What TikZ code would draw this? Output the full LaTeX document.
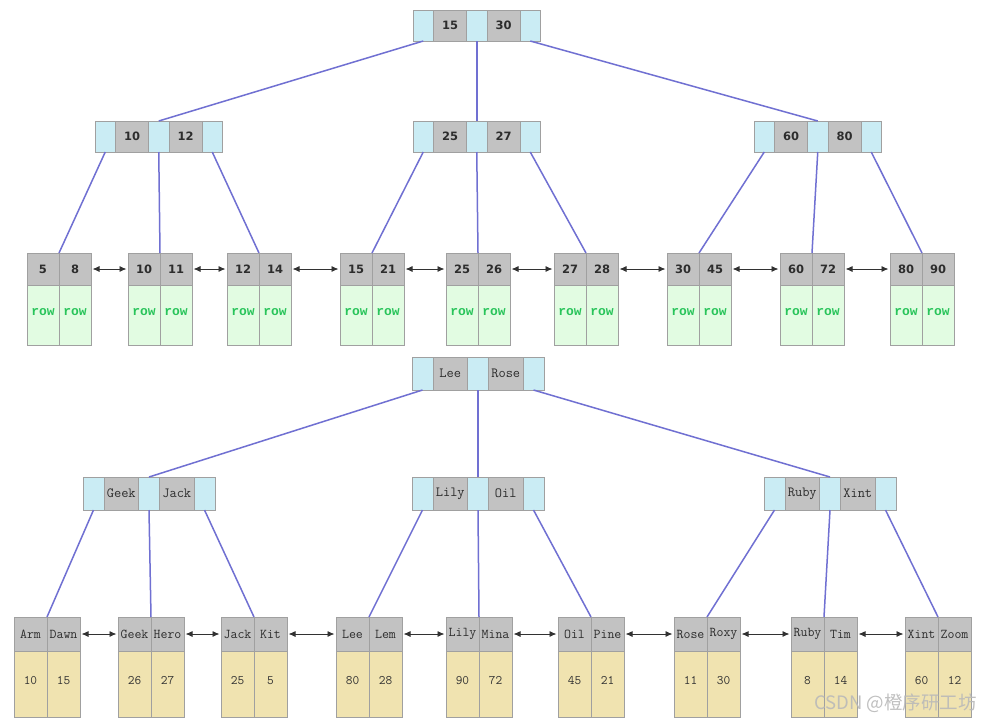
\documentclass[tikz,border=0pt]{standalone}
\usepackage{fontspec}
\newfontfamily\numfont{DejaVu Sans}
\newfontfamily\monofnt{Liberation Mono}
\newfontfamily\cjkfont{Noto Sans CJK SC}
\usetikzlibrary{arrows.meta}
\definecolor{cellcyan}{RGB}{202,236,244}
\definecolor{cellgray}{RGB}{194,194,194}
\definecolor{cellborder}{RGB}{160,160,160}
\definecolor{rowgreen}{RGB}{226,252,226}
\definecolor{rowtext}{RGB}{40,196,90}
\definecolor{valyellow}{RGB}{240,227,176}
\definecolor{keytext}{RGB}{45,45,45}
\definecolor{valtext}{RGB}{50,50,50}
\definecolor{linkblue}{RGB}{112,112,210}
\definecolor{arrowgray}{RGB}{50,50,50}
\tikzset{
  cell/.style={draw=cellborder, line width=0.8pt, inner sep=0pt, outer sep=0pt, anchor=north west},
  tcy/.style={cell, fill=cellcyan, minimum width=20.5pt, minimum height=31pt},
  tgy/.style={cell, fill=cellgray, minimum width=33pt, minimum height=31pt, text=keytext,
    font=\numfont\bfseries\fontsize{11.5}{12}\selectfont},
  bcy/.style={cell, fill=cellcyan, minimum width=21pt, minimum height=33pt},
  bgy/.style={cell, fill=cellgray, minimum width=34.5pt, minimum height=33pt, text=keytext,
    font=\ttfamily\fontsize{14}{14}\selectfont},
  tlh/.style={cell, fill=cellgray, minimum width=32pt, minimum height=32pt, text=keytext,
    font=\numfont\bfseries\fontsize{11.5}{12}\selectfont},
  tlb/.style={cell, fill=rowgreen, minimum width=32pt, minimum height=60pt, text=rowtext,
    font=\monofnt\bfseries\fontsize{13}{13}\selectfont, text height=6pt, text depth=6pt},
  blh/.style={cell, fill=cellgray, minimum width=33pt, minimum height=34pt, text=keytext,
    font=\ttfamily\fontsize{13.5}{13.5}\selectfont},
  blb/.style={cell, fill=valyellow, minimum width=33pt, minimum height=66pt, text=valtext,
    font=\ttfamily\fontsize{13}{13}\selectfont, text height=6pt, text depth=6pt},
  link/.style={draw=linkblue, line width=1.5pt},
  nbr/.style={draw=arrowgray, line width=0.9pt,
    {Latex[length=7pt,width=6pt]}-{Latex[length=7pt,width=6pt]},
    shorten <=1.5pt, shorten >=1.5pt}
}
% internal node: name, x, y, key1, key2, prefix
\newcommand{\InNode}[6]{%
  \node[#6cy] (#1-a) at (#2,#3) {};
  \node[#6gy] (#1-k) at (#1-a.north east) {#4};
  \node[#6cy] (#1-b) at (#1-k.north east) {};
  \node[#6gy] (#1-l) at (#1-b.north east) {#5};
  \node[#6cy] (#1-c) at (#1-l.north east) {};
}
% leaf node: name, x, y, key1, key2, val1, val2, prefix
\newcommand{\LfNode}[8]{%
  \node[#8lh] (#1-a) at (#2,#3) {#4};
  \node[#8lh] (#1-b) at (#1-a.north east) {#5};
  \node[#8lb] (#1-c) at (#1-a.south west) {#6};
  \node[#8lb] (#1-d) at (#1-c.north east) {#7};
}
\begin{document}
\begin{tikzpicture}[x=1pt,y=-1pt]
\useasboundingbox (0,0) rectangle (982,721);
\fill[white] (0,0) rectangle (982,721);

% ---------- top tree ----------
\InNode{tr}{413}{10}{15}{30}{t}
\InNode{ta}{95}{121}{10}{12}{t}
\InNode{tb}{413}{121}{25}{27}{t}
\InNode{tc}{754}{121}{60}{80}{t}

\LfNode{t1}{27}{253}{5}{8}{row}{row}{t}
\LfNode{t2}{128}{253}{10}{11}{row}{row}{t}
\LfNode{t3}{227}{253}{12}{14}{row}{row}{t}
\LfNode{t4}{340}{253}{15}{21}{row}{row}{t}
\LfNode{t5}{446}{253}{25}{26}{row}{row}{t}
\LfNode{t6}{554}{253}{27}{28}{row}{row}{t}
\LfNode{t7}{667}{253}{30}{45}{row}{row}{t}
\LfNode{t8}{780}{253}{60}{72}{row}{row}{t}
\LfNode{t9}{890}{253}{80}{90}{row}{row}{t}

\draw[link] (tr-a.south) -- (ta-b.north);
\draw[link] (tr-b.south) -- (tb-b.north);
\draw[link] (tr-c.south) -- (tc-b.north);
\draw[link] (ta-a.south) -- (t1-a.north east);
\draw[link] (ta-b.south) -- (t2-a.north east);
\draw[link] (ta-c.south) -- (t3-a.north east);
\draw[link] (tb-a.south) -- (t4-a.north east);
\draw[link] (tb-b.south) -- (t5-a.north east);
\draw[link] (tb-c.south) -- (t6-a.north east);
\draw[link] (tc-a.south) -- (t7-a.north east);
\draw[link] (tc-b.south) -- (t8-a.north east);
\draw[link] (tc-c.south) -- (t9-a.north east);

\draw[nbr] (t1-b.east) -- (t2-a.west);
\draw[nbr] (t2-b.east) -- (t3-a.west);
\draw[nbr] (t3-b.east) -- (t4-a.west);
\draw[nbr] (t4-b.east) -- (t5-a.west);
\draw[nbr] (t5-b.east) -- (t6-a.west);
\draw[nbr] (t6-b.east) -- (t7-a.west);
\draw[nbr] (t7-b.east) -- (t8-a.west);
\draw[nbr] (t8-b.east) -- (t9-a.west);

% ---------- bottom tree ----------
\InNode{br}{412}{357}{Lee}{Rose}{b}
\InNode{ba}{83}{477}{Geek}{Jack}{b}
\InNode{bb}{412}{477}{Lily}{Oil}{b}
\InNode{bc}{764}{477}{Ruby}{Xint}{b}

\LfNode{b1}{14}{617}{Arm}{Dawn}{10}{15}{b}
\LfNode{b2}{118}{617}{Geek}{Hero}{26}{27}{b}
\LfNode{b3}{221}{617}{Jack}{Kit}{25}{5}{b}
\LfNode{b4}{336}{617}{Lee}{Lem}{80}{28}{b}
\LfNode{b5}{446}{617}{Lily}{Mina}{90}{72}{b}
\LfNode{b6}{558}{617}{Oil}{Pine}{45}{21}{b}
\LfNode{b7}{674}{617}{Rose}{Roxy}{11}{30}{b}
\LfNode{b8}{791}{617}{Ruby}{Tim}{8}{14}{b}
\LfNode{b9}{905}{617}{Xint}{Zoom}{60}{12}{b}

\draw[link] (br-a.south) -- (ba-b.north);
\draw[link] (br-b.south) -- (bb-b.north);
\draw[link] (br-c.south) -- (bc-b.north);
\draw[link] (ba-a.south) -- (b1-a.north east);
\draw[link] (ba-b.south) -- (b2-a.north east);
\draw[link] (ba-c.south) -- (b3-a.north east);
\draw[link] (bb-a.south) -- (b4-a.north east);
\draw[link] (bb-b.south) -- (b5-a.north east);
\draw[link] (bb-c.south) -- (b6-a.north east);
\draw[link] (bc-a.south) -- (b7-a.north east);
\draw[link] (bc-b.south) -- (b8-a.north east);
\draw[link] (bc-c.south) -- (b9-a.north east);

\draw[nbr] (b1-b.east) -- (b2-a.west);
\draw[nbr] (b2-b.east) -- (b3-a.west);
\draw[nbr] (b3-b.east) -- (b4-a.west);
\draw[nbr] (b4-b.east) -- (b5-a.west);
\draw[nbr] (b5-b.east) -- (b6-a.west);
\draw[nbr] (b6-b.east) -- (b7-a.west);
\draw[nbr] (b7-b.east) -- (b8-a.west);
\draw[nbr] (b8-b.east) -- (b9-a.west);

% watermark
\node[anchor=west, inner sep=0pt, text=gray!55, opacity=0.9,
  font=\cjkfont\fontsize{18.5}{18.5}\selectfont] (wm) at (814,703) {CSDN @橙序研工坊};
\end{tikzpicture}
\end{document}
